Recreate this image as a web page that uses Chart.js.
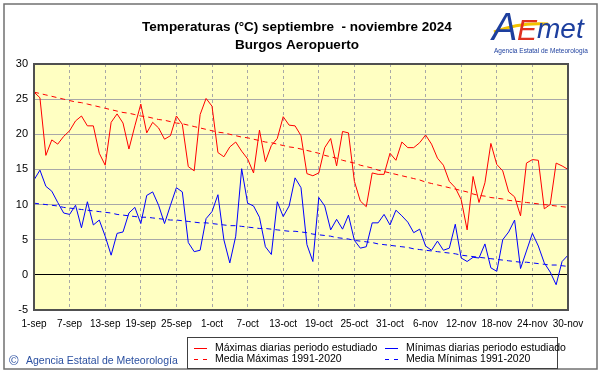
<!DOCTYPE html>
<html>
<head>
<meta charset="utf-8">
<script src="https://cdn.jsdelivr.net/npm/chart.js@4.4.1/dist/chart.umd.min.js"></script>
<style>
  html, body { margin: 0; padding: 0; background: #fff; }
  #wrap { width: 601px; height: 374px; }
</style>
</head>
<body>
<div id="wrap"><canvas id="tempChart" width="601" height="374"></canvas></div>
<script>
// Temperaturas diarias Burgos Aeropuerto, sep-nov 2024 (one value per day, 1-sep .. 30-nov)

const tickLabels = ["1-sep", "7-sep", "13-sep", "19-sep", "25-sep", "1-oct", "7-oct", "13-oct",
  "19-oct", "25-oct", "31-oct", "6-nov", "12-nov", "18-nov", "24-nov", "30-nov"];

const maxDaily = [
  26.0, 25.2, 17.0, 19.2, 18.6, 19.7, 20.5, 21.9, 22.6, 21.2, 21.2, 17.3, 15.6, 21.7, 22.9, 21.6,
  17.9, 21.2, 24.3, 20.2, 21.7, 20.9, 19.3, 19.8, 22.6, 21.4, 15.4, 14.8, 22.8, 25.1, 24.0,
  17.4, 16.8, 18.2, 18.9, 17.6, 16.5, 14.5, 20.6, 16.1, 18.4, 19.4, 22.5, 21.3, 21.2, 19.8,
  14.4, 14.1, 14.5, 18.1, 19.4, 15.5, 20.4, 20.2, 13.3, 10.5, 9.7, 14.5, 14.3, 14.3, 17.3,
  16.3, 18.9, 18.1, 18.1, 18.8, 19.9, 18.6, 16.6, 15.6, 13.3, 12.4, 10.7, 6.4, 14.0, 10.3,
  13.1, 18.7, 15.7, 14.8, 11.8, 11.1, 8.4, 15.9, 16.4, 16.3, 9.4, 10.0, 15.9, 15.5, 15.0
];

const minDaily = [
  13.5, 14.9, 12.6, 11.9, 10.3, 8.8, 8.6, 9.9, 6.7, 10.4, 7.1, 7.8, 5.5, 2.8, 5.9, 6.1,
  8.8, 9.6, 7.3, 11.3, 11.8, 9.9, 7.3, 9.9, 12.4, 11.8, 4.6, 3.3, 3.5, 8.0, 9.0,
  11.4, 5.0, 1.7, 5.5, 15.1, 10.2, 9.8, 8.2, 4.0, 2.9, 10.4, 8.3, 9.8, 13.8, 12.4,
  4.3, 1.9, 11.0, 9.8, 6.4, 7.9, 6.5, 8.5, 4.9, 3.8, 4.0, 7.4, 7.4, 8.6, 7.1,
  9.2, 8.4, 7.5, 6.0, 6.5, 4.1, 3.5, 4.8, 3.5, 3.8, 7.2, 2.4, 1.9, 2.5, 2.4,
  4.4, 1.0, 0.5, 5.0, 6.1, 7.8, 0.9, 3.4, 5.9, 4.1, 1.7, 0.4, -1.4, 1.9, 2.8
];

// Media 1991-2020
const maxNormal = [
  26.0, 25.8, 25.6, 25.4, 25.2, 25.0, 24.8, 24.6, 24.5, 24.3, 24.1, 23.9, 23.7, 23.5, 23.3, 23.1,
  23.0, 22.8, 22.6, 22.5, 22.3, 22.1, 22.0, 21.8, 21.6, 21.5, 21.3, 21.1, 20.9, 20.7, 20.5,
  20.3, 20.2, 20.0, 19.8, 19.6, 19.5, 19.3, 19.1, 18.9, 18.8, 18.6, 18.4, 18.2, 18.1, 17.9,
  17.7, 17.5, 17.3, 17.0, 16.8, 16.6, 16.3, 16.1, 15.9, 15.6, 15.4, 15.2, 14.9, 14.7, 14.5,
  14.3, 14.1, 13.9, 13.7, 13.5, 13.2, 13.0, 12.8, 12.6, 12.4, 12.2, 12.0, 11.8, 11.5, 11.3,
  11.2, 11.0, 10.9, 10.8, 10.6, 10.5, 10.4, 10.3, 10.2, 10.1, 10.0, 9.9, 9.8, 9.7, 9.6
];

const minNormal = [
  10.2, 10.1, 10.0, 9.9, 9.8, 9.6, 9.5, 9.4, 9.3, 9.2, 9.1, 9.0, 8.9, 8.8, 8.6, 8.5,
  8.4, 8.3, 8.2, 8.2, 8.1, 8.0, 7.9, 7.8, 7.8, 7.7, 7.6, 7.5, 7.4, 7.4, 7.3,
  7.2, 7.1, 7.0, 7.0, 6.9, 6.8, 6.7, 6.6, 6.6, 6.5, 6.4, 6.3, 6.2, 6.2, 6.1,
  6.0, 5.8, 5.7, 5.6, 5.5, 5.3, 5.2, 5.1, 4.9, 4.8, 4.7, 4.6, 4.4, 4.3, 4.2,
  4.1, 4.0, 3.9, 3.7, 3.6, 3.5, 3.4, 3.3, 3.2, 3.1, 3.0, 2.8, 2.7, 2.6, 2.5,
  2.4, 2.3, 2.2, 2.1, 2.0, 1.9, 1.8, 1.8, 1.7, 1.6, 1.5, 1.4, 1.4, 1.3, 1.2
];

const seriesNames = [
  "Máximas diarias periodo estudiado",
  "Mínimas diarias periodo estudiado",
  "Media Máximas 1991-2020",
  "Media Mínimas 1991-2020"
];

const FONT = '"Liberation Sans", Arial, sans-serif';
const RED = "#ff0000";
const BLUE = "#0000ff";

function toPoints(arr) {
  return arr.map((v, i) => ({ x: i, y: v }));
}

// background, frame, titles, logo, legend box
const decorPlugin = {
  id: "decor",
  beforeDraw(chart) {
    const { ctx, chartArea: a } = chart;
    ctx.save();
    ctx.fillStyle = "#fff";
    ctx.fillRect(0, 0, chart.width, chart.height);
    ctx.fillStyle = "#ffffc2";
    ctx.fillRect(a.left, a.top, a.right - a.left, a.bottom - a.top);
    ctx.restore();
  },
  afterDraw(chart) {
    const { ctx, chartArea: a } = chart;
    ctx.save();

    // plot border
    ctx.strokeStyle = "#505050";
    ctx.lineWidth = 2;
    ctx.strokeRect(a.left, a.top, a.right - a.left, a.bottom - a.top);

    // outer frame
    ctx.strokeStyle = "#707070";
    ctx.lineWidth = 1.5;
    ctx.strokeRect(4, 4, 593, 365);

    // titles
    ctx.fillStyle = "#000";
    ctx.textAlign = "center";
    ctx.textBaseline = "middle";
    ctx.font = "bold 13.5px " + FONT;
    ctx.fillText("Temperaturas (°C) septiembre  - noviembre 2024", 297, 27);
    ctx.fillText("Burgos Aeropuerto", 297, 45);

    // AEMET logo
    ctx.textAlign = "left";
    ctx.textBaseline = "alphabetic";
    ctx.strokeStyle = "#f2c200";
    ctx.lineWidth = 3;
    ctx.beginPath();
    ctx.moveTo(494, 32);
    ctx.quadraticCurveTo(520, 22, 548, 24);
    ctx.stroke();
    ctx.font = "italic 38px " + FONT;
    ctx.fillStyle = "#1d3f9e";
    ctx.fillText("A", 492, 40);
    ctx.fillStyle = "#e0301e";
    ctx.font = "italic 30px " + FONT;
    ctx.fillText("E", 517, 40);
    ctx.fillStyle = "#1d3f9e";
    ctx.font = "italic 28px " + FONT;
    ctx.fillText("met", 537, 38);
    ctx.font = "6.5px " + FONT;
    ctx.fillText("Agencia Estatal de Meteorología", 494, 53);

    // copyright
    ctx.fillStyle = "#2a4fa0";
    ctx.font = "13px " + FONT;
    ctx.textBaseline = "middle";
    ctx.fillText("©", 9, 361);
    ctx.font = "10.5px " + FONT;
    ctx.fillText("Agencia Estatal de Meteorología", 26, 361);

    // legend
    ctx.fillStyle = "#fff";
    ctx.fillRect(187, 337, 370, 31);
    ctx.strokeStyle = "#404040";
    ctx.lineWidth = 1;
    ctx.strokeRect(187.5, 337.5, 370, 31);
    const items = [
      { x: 194, y: 348, color: RED, dashed: false },
      { x: 385, y: 348, color: BLUE, dashed: false },
      { x: 194, y: 359, color: RED, dashed: true },
      { x: 385, y: 359, color: BLUE, dashed: true }
    ];
    ctx.font = "10.5px " + FONT;
    items.forEach((it, i) => {
      ctx.fillStyle = it.color;
      if (it.dashed) {
        ctx.fillRect(it.x, it.y, 4, 1);
        ctx.fillRect(it.x + 9, it.y, 4, 1);
      } else {
        ctx.fillRect(it.x, it.y, 13, 1);
      }
      ctx.fillStyle = "#000";
      ctx.fillText(seriesNames[i], it.x + 21, it.y);
    });

    ctx.restore();
  }
};

const ctx = document.getElementById("tempChart").getContext("2d");

new Chart(ctx, {
  type: "line",
  data: {
    datasets: [
      { label: seriesNames[0], data: toPoints(maxDaily), borderColor: RED, borderWidth: 1 },
      { label: seriesNames[1], data: toPoints(minDaily), borderColor: BLUE, borderWidth: 1 },
      { label: seriesNames[2], data: toPoints(maxNormal), borderColor: RED, borderWidth: 1, borderDash: [5, 4] },
      { label: seriesNames[3], data: toPoints(minNormal), borderColor: BLUE, borderWidth: 1, borderDash: [5, 4] }
    ]
  },
  options: {
    responsive: false,
    animation: false,
    elements: { point: { radius: 0 }, line: { tension: 0 } },
    layout: { padding: { left: 0, right: 33, top: 64, bottom: 44 } },
    plugins: {
      legend: { display: false },
      title: { display: false },
      tooltip: { enabled: false }
    },
    scales: {
      x: {
        type: "linear",
        min: 0,
        max: 90,
        afterFit: (s) => { s.height = 20; },
        ticks: {
          stepSize: 6,
          autoSkip: false,
          maxRotation: 0,
          padding: 8,
          color: "#000",
          font: { family: FONT, size: 10 },
          callback: (v) => tickLabels[v / 6]
        },
        grid: { color: "#a8a8a8", drawTicks: false },
        border: { display: false, dash: [3, 3] }
      },
      y: {
        min: -5,
        max: 30,
        afterFit: (s) => { s.width = 34; },
        ticks: {
          stepSize: 5,
          padding: 6,
          color: "#000",
          font: { family: FONT, size: 11 }
        },
        grid: {
          drawTicks: false,
          color: (c) => (c.tick && c.tick.value === 0 ? "#000" : "#a8a8a8")
        },
        border: { display: false }
      }
    }
  },
  plugins: [decorPlugin]
});
</script>
</body>
</html>
